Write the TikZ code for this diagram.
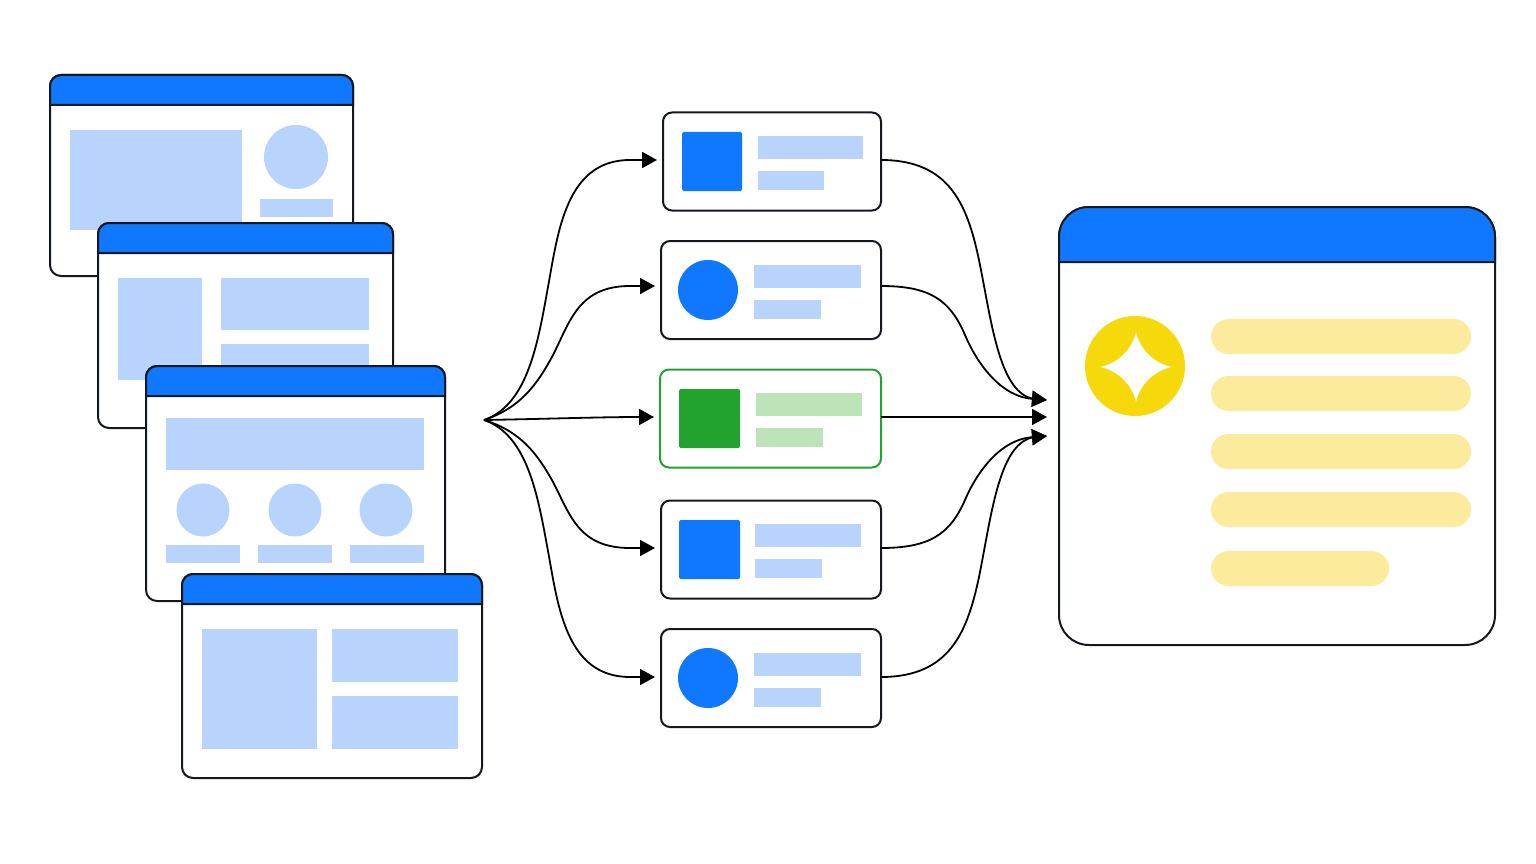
\documentclass[tikz,border=0pt]{standalone}
\usepackage{tikz}
\usetikzlibrary{arrows.meta}
\definecolor{ink}{HTML}{14181F}
\definecolor{barblue}{HTML}{0F78FF}
\definecolor{paleblue}{HTML}{B8D4FC}
\definecolor{leaf}{HTML}{22A32F}
\definecolor{paleleaf}{HTML}{BDE3B8}
\definecolor{sun}{HTML}{F5D90A}
\definecolor{palesun}{HTML}{FCEB9C}
\tikzset{
  page/.style={draw=ink,fill=white,line width=2pt,rounded corners=11pt},
  pagebar/.style={draw=ink,fill=barblue,line width=2pt},
  card/.style={draw=ink,fill=white,line width=2pt,rounded corners=9pt,minimum height=98pt,inner sep=0pt,outer sep=0pt},
  flow/.style={draw=black,line width=1.8pt,-{Triangle[length=15pt,width=16pt]}},
}
\begin{document}
\begin{tikzpicture}[x=1pt,y=-1pt]
  \useasboundingbox (0,0) rectangle (1536,864);

  \draw[page] (50,75) rectangle (353,276);
  \draw[pagebar] (50,105) -- (50,86) .. controls (50,80) and (55,75) .. (61,75) -- (342,75) .. controls (348,75) and (353,80) .. (353,86) -- (353,105) -- cycle;
  \fill[paleblue] (70,130) rectangle (242,230);
  \fill[paleblue] (296,157) circle [radius=32];
  \fill[paleblue] (260,199) rectangle (333,217);

  \draw[page] (98,223) rectangle (393,428);
  \draw[pagebar] (98,253) -- (98,234) .. controls (98,228) and (103,223) .. (109,223) -- (382,223) .. controls (388,223) and (393,228) .. (393,234) -- (393,253) -- cycle;
  \fill[paleblue] (118,278) rectangle (202,380);
  \fill[paleblue] (221,278) rectangle (369,330);
  \fill[paleblue] (221,344) rectangle (369,380);

  \draw[page] (146,366) rectangle (445,601);
  \draw[pagebar] (146,396) -- (146,377) .. controls (146,371) and (151,366) .. (157,366) -- (434,366) .. controls (440,366) and (445,371) .. (445,377) -- (445,396) -- cycle;
  \fill[paleblue] (166,418) rectangle (424,470);
  \fill[paleblue] (203,510) circle [radius=26.5];
  \fill[paleblue] (295,510) circle [radius=26.5];
  \fill[paleblue] (386,510) circle [radius=26.5];
  \fill[paleblue] (166,545) rectangle (240,563);
  \fill[paleblue] (258,545) rectangle (332,563);
  \fill[paleblue] (350,545) rectangle (424,563);

  \draw[page] (182,574) rectangle (482,778);
  \draw[pagebar] (182,604) -- (182,585) .. controls (182,579) and (187,574) .. (193,574) -- (471,574) .. controls (477,574) and (482,579) .. (482,585) -- (482,604) -- cycle;
  \fill[paleblue] (202,629) rectangle (317,749);
  \fill[paleblue] (332,629) rectangle (458,682);
  \fill[paleblue] (332,696) rectangle (458,749);

  \node[card,minimum width=218pt] (cardA) at (772,161.5) {};
  \fill[barblue,rounded corners=1.5pt] (682,132) rectangle (742,191);
  \fill[paleblue] (758,136) rectangle (863,159);
  \fill[paleblue] (758,171) rectangle (824,190);

  \node[card,minimum width=220pt] (cardB) at (771,290) {};
  \fill[barblue] (708,290) circle [radius=30];
  \fill[paleblue] (754,265) rectangle (861,288);
  \fill[paleblue] (754,300) rectangle (821,319);

  \node[card,minimum width=221pt,draw=leaf] (cardC) at (770.5,418.5) {};
  \fill[leaf,rounded corners=1.5pt] (679,389) rectangle (740,448);
  \fill[paleleaf] (756,393) rectangle (862,416);
  \fill[paleleaf] (756,428) rectangle (823,447);

  \node[card,minimum width=220pt] (cardD) at (771,549.5) {};
  \fill[barblue,rounded corners=1.5pt] (679,520) rectangle (740,579);
  \fill[paleblue] (755,524) rectangle (861,547);
  \fill[paleblue] (755,559) rectangle (822,578);

  \node[card,minimum width=220pt] (cardE) at (771,678) {};
  \fill[barblue] (708,678) circle [radius=30];
  \fill[paleblue] (754,653) rectangle (861,676);
  \fill[paleblue] (754,688) rectangle (821,707);

  \draw[page,rounded corners=30pt] (1059,207) rectangle (1495,645);
  \draw[pagebar] (1059,262) -- (1059,237) .. controls (1059,220) and (1072,207) .. (1089,207) -- (1465,207) .. controls (1482,207) and (1495,220) .. (1495,237) -- (1495,262) -- cycle;
  \fill[sun] (1135,366) circle [radius=50];
  \fill[white] (1100,367) .. controls (1118,363.5) and (1132.5,349) .. (1136,332)
    .. controls (1139.5,349) and (1154,363.5) .. (1172,367)
    .. controls (1154,370.5) and (1139.5,385) .. (1136,402)
    .. controls (1132.5,385) and (1118,370.5) .. (1100,367) -- cycle;
  \fill[palesun,rounded corners=17.5pt] (1211,319) rectangle (1471,354);
  \fill[palesun,rounded corners=17.5pt] (1211,376) rectangle (1471,411);
  \fill[palesun,rounded corners=17.5pt] (1211,434) rectangle (1471,469);
  \fill[palesun,rounded corners=17.5pt] (1211,492) rectangle (1471,527);
  \fill[palesun,rounded corners=17.5pt] (1211,551) rectangle (1389,586);

  \coordinate (hub) at (484,420);
  \coordinate (mergeUp) at (1047,400);
  \coordinate (mergeMid) at (1047,417);
  \coordinate (mergeLow) at (1047,436);

  \draw[flow,shorten >=6pt] (hub) .. controls (528,405) and (538,342) .. (548,287) .. controls (558,232) and (566,160) .. (630,160) -- ([yshift=1.5pt]cardA.west);
  \draw[flow,shorten >=6pt] (hub) .. controls (520,408) and (537,385) .. (553,355) .. controls (570,322) and (578,286) .. (630,286) -- ([yshift=4pt]cardB.west);
  \draw[flow,shorten >=6pt] (hub) .. controls +(60,-1) and +(-60,0) .. ([yshift=1.5pt]cardC.west);
  \draw[flow,shorten >=6pt] (hub) .. controls (520,431) and (537,453) .. (553,482) .. controls (570,514) and (578,548) .. (630,548) -- ([yshift=1.5pt]cardD.west);
  \draw[flow,shorten >=6pt] (hub) .. controls (528,435) and (538,497) .. (548,551) .. controls (558,606) and (566,677) .. (630,677) -- ([yshift=1pt]cardE.west);

  \draw[flow] ([yshift=1.5pt]cardA.east) .. controls (950,160) and (968,205) .. (980,265) .. controls (992,325) and (1000,395) .. (1035,399) -- (mergeUp);
  \draw[flow] ([yshift=4pt]cardB.east) .. controls (930,286) and (950,300) .. (965,335) .. controls (976,361) and (1000,398) .. (1035,399) -- (mergeUp);
  \draw[flow] ([yshift=1.5pt]cardC.east) .. controls +(60,0) and +(-60,0) .. (mergeMid);
  \draw[flow] ([yshift=1.5pt]cardD.east) .. controls (930,548) and (950,534) .. (965,500) .. controls (976,474) and (1000,438) .. (1035,437) -- (mergeLow);
  \draw[flow] ([yshift=1pt]cardE.east) .. controls (950,677) and (968,632) .. (980,572) .. controls (992,511) and (1000,441) .. (1035,437) -- (mergeLow);
\end{tikzpicture}
\end{document}
